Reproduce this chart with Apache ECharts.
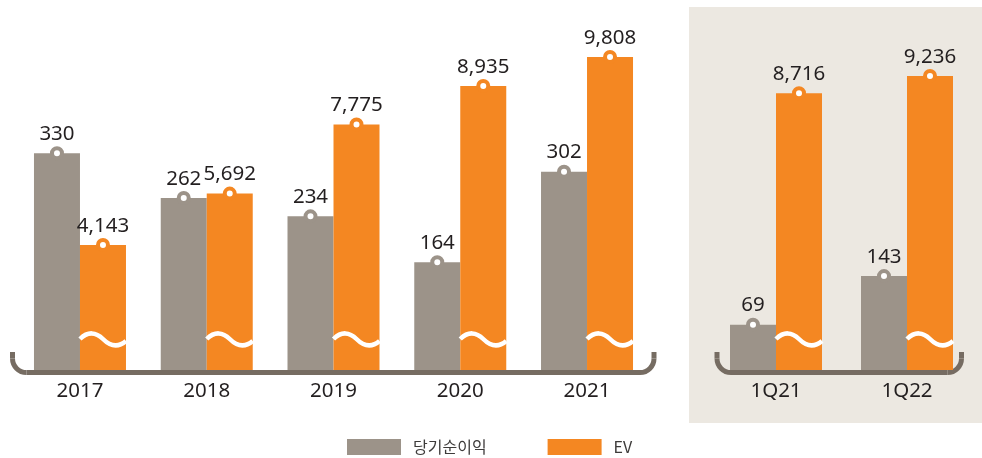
<!DOCTYPE html>
<html>
<head>
<meta charset="utf-8">
<script src="https://cdn.jsdelivr.net/npm/echarts@6/dist/echarts.min.js"></script>
<style>
  html, body { margin: 0; padding: 0; background: #ffffff; }
  #chart { width: 982px; height: 458px; }
</style>
</head>
<body>
<div id="chart"></div>
<script>
// Yearly figures
const years = ['2017', '2018', '2019', '2020', '2021'];
const netIncomeYearly = [330, 262, 234, 164, 302];
const evYearly = [4143, 5692, 7775, 8935, 9808];

// Quarterly figures
const quarters = ['1Q21', '1Q22'];
const netIncomeQuarterly = [69, 143];
const evQuarterly = [8716, 9236];

const seriesNames = ['당기순이익', 'EV'];

// Styling
const GRAY = '#9c9389';
const ORANGE = '#f48722';
const BRACKET = '#766c62';
const PANEL_BG = '#ece8e1';
const TEXT = '#231f20';
const FONT = "'Noto Sans', 'Noto Sans CJK KR', sans-serif";
const FONT_KR = "'Noto Sans CJK KR', 'Noto Sans', sans-serif";

// Layout
const BAR_W = 46;
const GRID_TOP = 20;
const GRID_BOTTOM = 88;          // axis baseline sits at y = 370
const BASE_Y = 458 - GRID_BOTTOM;
const NI_RANGE = [0, 533];        // net income axis
const EV_RANGE = [380, 10920];    // EV axis is broken (does not start at zero)

const fmt = v => Number(v).toLocaleString('en-US');

const valueLabel = {
  show: true,
  position: 'top',
  distance: 9,
  fontFamily: FONT,
  fontSize: 20.5,
  color: TEXT,
  formatter: p => fmt(p.value)
};

function barSeries(name, xi, yi, data, color) {
  return {
    type: 'bar',
    name: name,
    xAxisIndex: xi,
    yAxisIndex: yi,
    data: data,
    barWidth: BAR_W,
    barGap: '0%',
    itemStyle: { color: color },
    label: valueLabel,
    z: 2
  };
}

// Ring marker on each bar top; the EV bars also get a white wave showing the axis break.
function markerSeries(xi, yi, data, dx, color, withBreak) {
  return {
    type: 'custom',
    xAxisIndex: xi,
    yAxisIndex: yi,
    data: data.map((v, i) => [i, v]),
    silent: true,
    z: 4,
    renderItem: function (params, api) {
      const top = api.coord([api.value(0), api.value(1)]);
      const cx = top[0] + dx;
      const children = [{
        type: 'circle',
        shape: { cx: cx, cy: top[1], r: 5 },
        style: { fill: '#ffffff', stroke: color, lineWidth: 4 }
      }];
      if (withBreak) {
        const base = api.coord([api.value(0), EV_RANGE[0]])[1];
        const x0 = cx - BAR_W / 2;
        const y = base - 30;
        children.push({
          type: 'path',
          shape: {
            pathData: 'M' + x0 + ' ' + (y - 1) +
              ' C' + (x0 + 8) + ' ' + (y - 9) + ' ' + (x0 + 16) + ' ' + (y - 8) + ' ' + (x0 + 23) + ' ' + (y - 1) +
              ' S' + (x0 + 38) + ' ' + (y + 8) + ' ' + (x0 + BAR_W) + ' ' + (y + 1)
          },
          style: { fill: null, stroke: '#ffffff', lineWidth: 4.5 }
        });
      }
      return { type: 'group', children: children };
    }
  };
}

// Rounded bracket under each panel: two short uprights joined by the baseline.
function bracket(x1, x2, yTop, yLine, r) {
  const style = { stroke: BRACKET, lineWidth: 5, fill: null };
  return {
    type: 'group',
    z: 10,
    silent: true,
    children: [
      { type: 'line', shape: { x1: x1, y1: yTop, x2: x1, y2: yLine - r }, style: style },
      { type: 'arc', shape: { cx: x1 + r, cy: yLine - r, r: r, startAngle: Math.PI / 2, endAngle: Math.PI }, style: style },
      { type: 'line', shape: { x1: x1 + r, y1: yLine, x2: x2 - r, y2: yLine }, style: style },
      { type: 'arc', shape: { cx: x2 - r, cy: yLine - r, r: r, startAngle: 0, endAngle: Math.PI / 2 }, style: style },
      { type: 'line', shape: { x1: x2, y1: yTop, x2: x2, y2: yLine - r }, style: style }
    ]
  };
}

const categoryAxis = (gi, data) => ({
  type: 'category',
  gridIndex: gi,
  data: data,
  axisLine: { show: false },
  axisTick: { show: false },
  axisLabel: { color: TEXT, fontFamily: FONT, fontSize: 20.5, margin: 11 }
});

const hiddenValueAxis = (gi, range) => ({
  type: 'value',
  gridIndex: gi,
  min: range[0],
  max: range[1],
  show: false
});

const option = {
  animation: false,
  backgroundColor: '#ffffff',
  graphic: [
    {
      type: 'rect',
      z: -10,
      silent: true,
      shape: { x: 689, y: 7, width: 293, height: 416 },
      style: { fill: PANEL_BG }
    },
    bracket(12.5, 654, 352, BASE_Y + 2.5, 14),
    bracket(717, 961.5, 352, BASE_Y + 2.5, 14)
  ],
  legend: {
    left: 342,
    top: 434,
    itemWidth: 54,
    itemHeight: 16,
    itemGap: 61,
    icon: 'rect',
    data: seriesNames,
    textStyle: { fontFamily: FONT_KR, fontSize: 16, color: '#3d3b3a', padding: [0, 0, 0, 7] }
  },
  grid: [
    { left: 16.6, width: 633.8, top: GRID_TOP, bottom: GRID_BOTTOM },
    { left: 710.5, width: 262, top: GRID_TOP, bottom: GRID_BOTTOM }
  ],
  xAxis: [categoryAxis(0, years), categoryAxis(1, quarters)],
  yAxis: [
    hiddenValueAxis(0, NI_RANGE),
    hiddenValueAxis(0, EV_RANGE),
    hiddenValueAxis(1, NI_RANGE),
    hiddenValueAxis(1, EV_RANGE)
  ],
  series: [
    barSeries(seriesNames[0], 0, 0, netIncomeYearly, GRAY),
    barSeries(seriesNames[1], 0, 1, evYearly, ORANGE),
    barSeries(seriesNames[0], 1, 2, netIncomeQuarterly, GRAY),
    barSeries(seriesNames[1], 1, 3, evQuarterly, ORANGE),
    markerSeries(0, 0, netIncomeYearly, -BAR_W / 2, GRAY, false),
    markerSeries(0, 1, evYearly, BAR_W / 2, ORANGE, true),
    markerSeries(1, 2, netIncomeQuarterly, -BAR_W / 2, GRAY, false),
    markerSeries(1, 3, evQuarterly, BAR_W / 2, ORANGE, true)
  ]
};

const chart = echarts.init(document.getElementById('chart'), null, { renderer: 'canvas' });
chart.setOption(option);
</script>
</body>
</html>
